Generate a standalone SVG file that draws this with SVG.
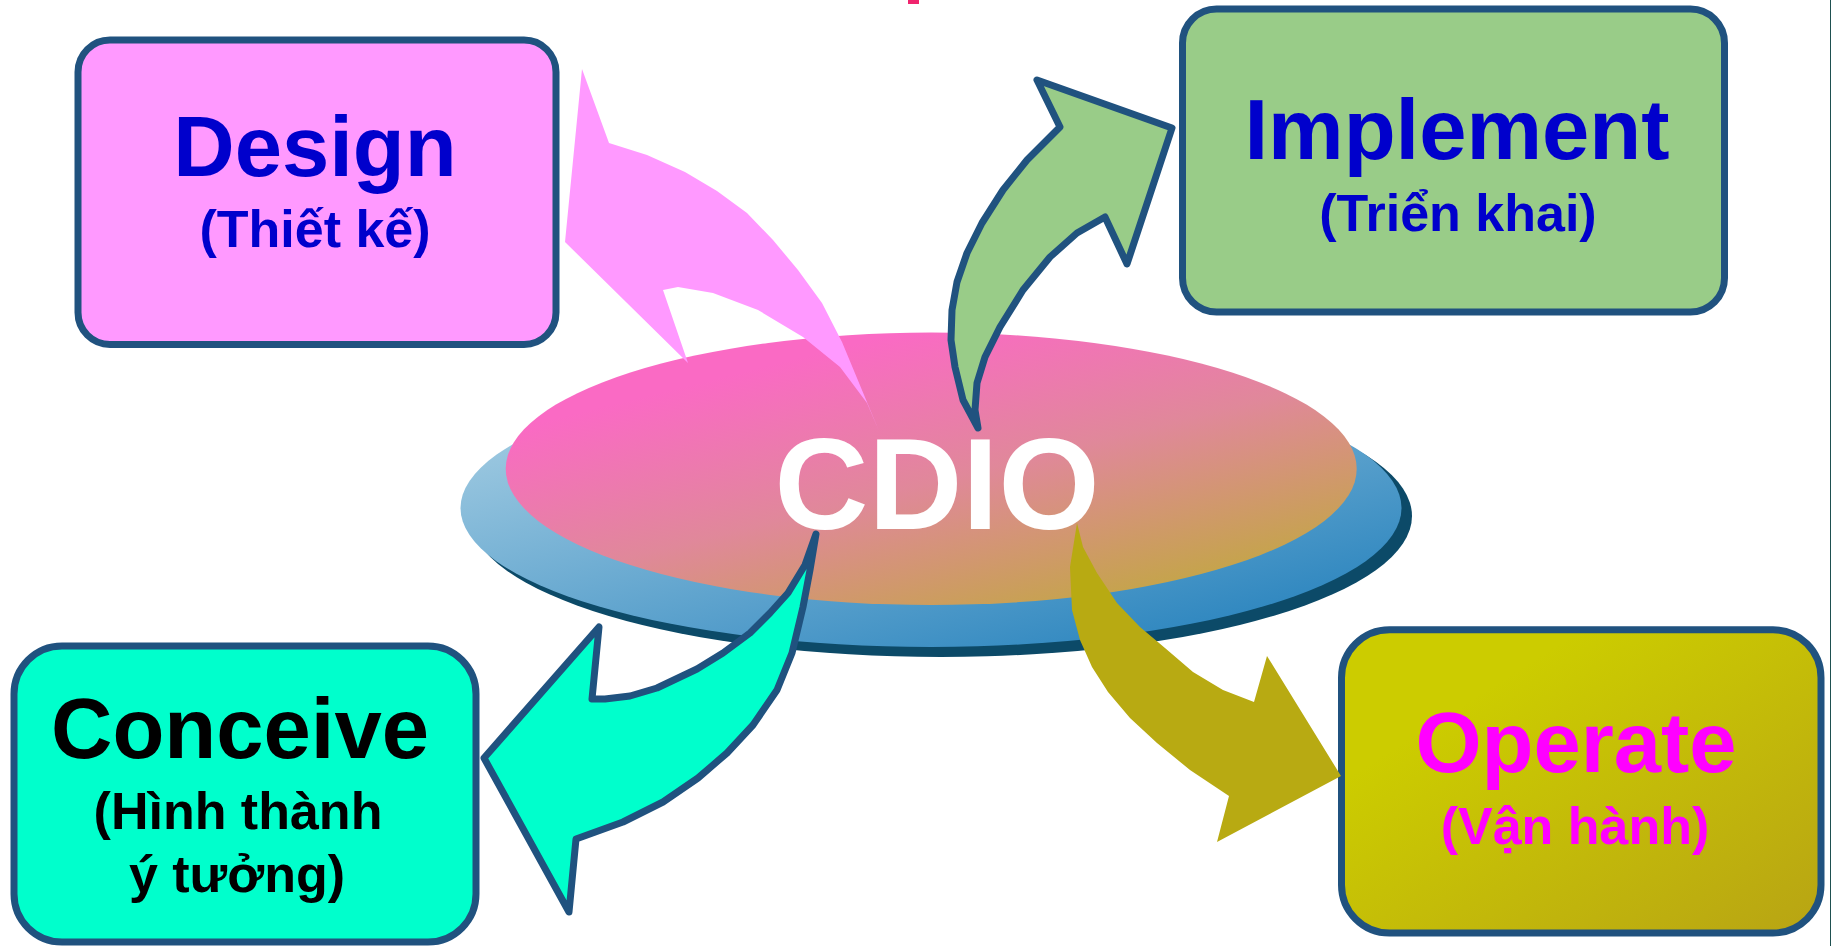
<svg xmlns="http://www.w3.org/2000/svg" width="1832" height="946" viewBox="0 0 1832 946">
<defs>
<linearGradient id="gPink" x1="0.15" y1="0.1" x2="0.85" y2="1">
<stop offset="0.1" stop-color="#FA6AC4"/>
<stop offset="0.5" stop-color="#E0889A"/>
<stop offset="1" stop-color="#BFAA3A"/>
</linearGradient>
<linearGradient id="gBlue" x1="0.1" y1="0.2" x2="0.8" y2="1">
<stop offset="0" stop-color="#9CC8E0"/>
<stop offset="1" stop-color="#2A84BE"/>
</linearGradient>
<linearGradient id="gOlive" x1="0" y1="0" x2="1" y2="1">
<stop offset="0.25" stop-color="#CCCC00"/>
<stop offset="1" stop-color="#B8A414"/>
</linearGradient>
<style>
.box{stroke:#20527F;stroke-width:7}
.t{font-family:"Liberation Sans",Arial,sans-serif;font-weight:bold;text-anchor:middle}
.big{font-size:85px}
.sub{font-size:52px}
.arrS{stroke:#20527F;stroke-width:7;stroke-linejoin:round}
</style>
</defs>
<rect width="1832" height="946" fill="#FFFFFF"/>
<rect x="908" y="0" width="11" height="4" fill="#F0246E"/>
<line x1="1830.5" y1="0" x2="1830.5" y2="946" stroke="#1E5050" stroke-width="1"/>

<g id="cdio">
<ellipse cx="941" cy="516" rx="471" ry="141" fill="#0C4A68"/>
<ellipse cx="931" cy="508" rx="470.5" ry="139" fill="url(#gBlue)"/>
<ellipse cx="931.2" cy="468.8" rx="425.5" ry="136.2" fill="url(#gPink)"/>
<text class="t" x="937" y="529" font-size="130" fill="#FFFFFF">CDIO</text>
</g>

<g id="design">
<rect class="box" x="78" y="40" width="478" height="304.5" rx="32" ry="32" fill="#FF99FF"/>
<text class="t big" x="315" y="176" fill="#0000CC">Design</text>
<text class="t sub" x="315" y="247" fill="#0000CC">(Thiết kế)</text>
</g>

<g id="implement">
<rect class="box" x="1182.5" y="9" width="542" height="303" rx="34" ry="34" fill="#99CC88"/>
<text class="t big" x="1457" y="159" fill="#0000CC">Implement</text>
<text class="t sub" x="1458" y="231" fill="#0000CC">(Triển khai)</text>
</g>

<g id="conceive">
<rect class="box" x="14" y="646" width="462" height="296" rx="48" ry="48" fill="#00FFCC"/>
<text class="t big" x="240" y="758" fill="#000000">Conceive</text>
<text class="t sub" x="238" y="829" fill="#000000">(Hình thành</text>
<text class="t sub" x="237" y="892" fill="#000000">ý tưởng)</text>
</g>

<g id="operate">
<rect class="box" x="1341.5" y="629.7" width="479.5" height="303.3" rx="48" ry="48" fill="url(#gOlive)"/>
<text class="t big" x="1576" y="772" fill="#FF00FF">Operate</text>
<text class="t sub" x="1575" y="844" fill="#FF00FF">(Vận hành)</text>
</g>

<g id="connectors">
<polygon fill="#FF99FF" points="582,69 609,143 647,155 685,172 717,191 747,213 773,240 798,270 822,303 842,342 879,431 867,403 840,367 803,337 758,310 713,293 678,287 663,290 688,363 565,242"/>
<polygon class="arrS" fill="#99CC88" points="978,428 963,400 955,367 951,340 952,310 957,282 967,253 982,223 1003,190 1027,160 1060,127 1037,80 1172,128 1127,264 1105,217 1077,233 1050,257 1023,290 1000,327 985,357 977,383 975,410"/>
<polygon class="arrS" fill="#00FFCC" points="816,534 810,570 803,607 792,653 777,690 753,725 727,753 698,778 663,802 623,822 576,839 569,912 484,758 599,627 592,699 605,699 630,696 657,688 697,669 723,653 750,633 770,613 788,593 805,565"/>
<polygon fill="#B8AA12" points="1077,523 1070,567 1072,610 1080,640 1092,667 1108,692 1130,718 1157,743 1190,770 1229,796 1217,842 1341,776 1267,656 1254,702 1223,690 1193,672 1165,648 1140,627 1117,603 1097,573 1083,547"/>
</g>
</svg>
